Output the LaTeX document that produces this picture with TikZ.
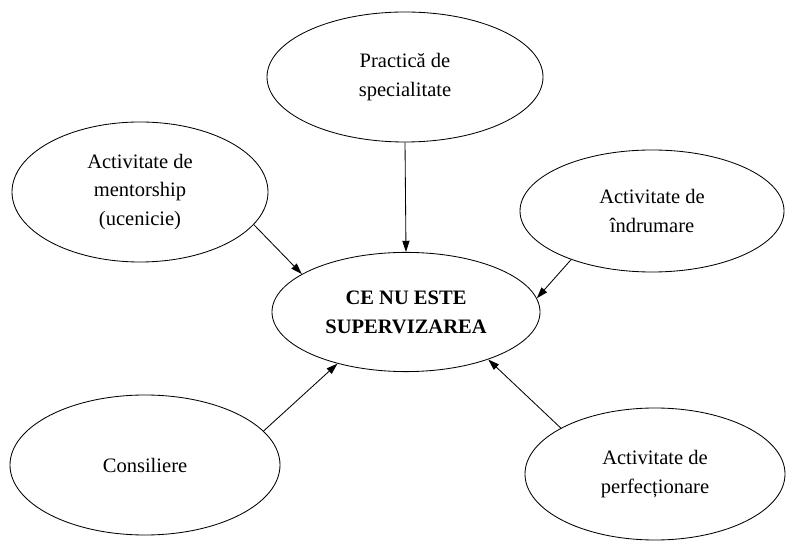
\documentclass[tikz,border=0pt]{standalone}
\usepackage{fontspec}
\setmainfont{Liberation Serif}
\usetikzlibrary{arrows.meta, shapes.geometric}

\begin{document}
\begin{tikzpicture}[every node/.style={font=\fontsize{14.6}{20.5}\selectfont}, align=center,
        bubble/.style={draw, ellipse, line width=0.6pt, inner sep=0pt},
        link/.style={-{Triangle[length=2.8mm,width=1.8mm]}, line width=0.6pt}]
        \useasboundingbox (0,0) rectangle (19.9,13.6);

        % Central idea
        \node[bubble, minimum width=6.7cm, minimum height=2.98cm] (centru) at (10.15, 5.8) {\textbf{CE NU ESTE}\\\textbf{SUPERVIZAREA}};

        % Surrounding activities
        \node[bubble, minimum width=6.9cm, minimum height=3.25cm] (practica) at (10.125, 11.675) {Practică de\\specialitate};
        \node[bubble, minimum width=6.4cm, minimum height=3.5cm] (mentor) at (3.5, 8.8) {Activitate de\\mentorship\\(ucenicie)};
        \node[bubble, minimum width=6.6cm, minimum height=3.05cm] (indrumare) at (16.3, 8.325) {Activitate de\\îndrumare};
        \node[bubble, minimum width=6.75cm, minimum height=3.5cm] (consiliere) at (3.625, 1.975) {Consiliere};
        \node[bubble, minimum width=6.5cm, minimum height=3.3cm] (perfectionare) at (16.375, 1.75) {Activitate de\\perfecționare};

        % Arrows
        \draw[link] (practica.south) -- (centru.north);
        \draw[link] (mentor.-16) -- (centru.160);
        \draw[link] (indrumare.-149) -- (centru.6);
        \draw[link] (consiliere.16) -- (centru.-143);
        \draw[link] (perfectionare.154) -- (centru.-30);
\end{tikzpicture}
\end{document}
